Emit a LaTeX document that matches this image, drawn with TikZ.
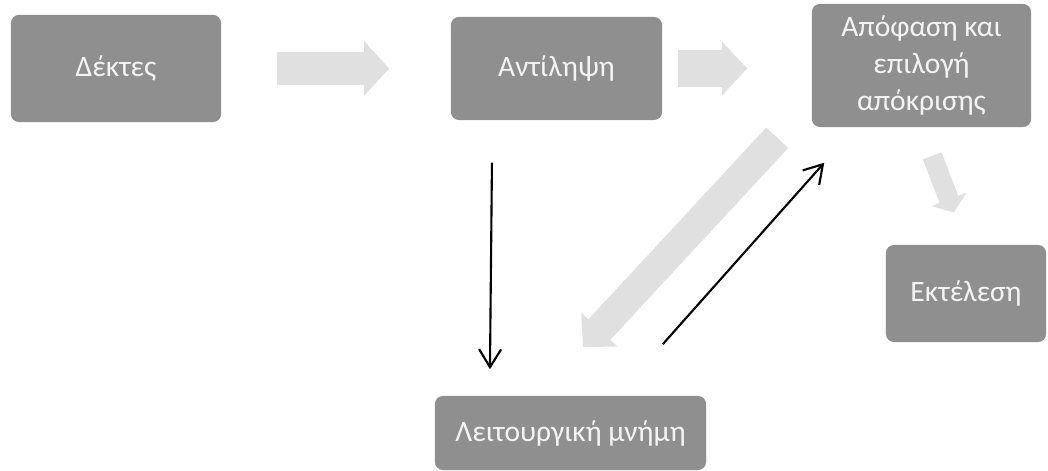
\documentclass[tikz,border=0pt]{standalone}
\usepackage{fontspec}
\setmainfont{Carlito}
\usetikzlibrary{arrows.meta}
\definecolor{WMBox}{HTML}{8F8F8F}
\definecolor{WMText}{HTML}{F4F4F4}
\definecolor{WMFlow}{HTML}{E0E0E0}

\begin{document}
\begin{tikzpicture}[x=0.01cm,y=-0.01cm,
  stage/.style={fill=WMBox,rounded corners=0.08cm,text=WMText,align=center,inner sep=0pt,font=\fontsize{8.4}{10.4}\selectfont},
  link/.style={line width=0.6pt,-{Straight Barb[length=0.18cm,width=0.22cm]}}]
\path[use as bounding box] (0,0) rectangle (1048,471);
\node[stage,minimum width=2.10cm,minimum height=1.07cm] (rec) at (116,68.5) {Δέκτες};
\node[stage,minimum width=2.11cm,minimum height=1.03cm] (perc) at (556.5,68.5) {Αντίληψη};
\node[stage,minimum width=2.19cm,minimum height=1.23cm] (dec) at (921.5,65.5) {Απόφαση και\\επιλογή\\απόκρισης};
\node[stage,minimum width=1.60cm,minimum height=0.97cm] (exe) at (966,293.5) {Εκτέλεση};
\node[stage,minimum width=2.71cm,minimum height=0.74cm] (mem) at (570.5,433) {Λειτουργική μνήμη};
\draw[WMFlow,line width=0.33cm,-{Triangle[length=0.25cm,width=0.53cm]},shorten <=0.55cm,shorten >=0.61cm] (rec) -- (perc);
\draw[WMFlow,line width=0.37cm,-{Triangle[length=0.25cm,width=0.52cm]},shorten <=0.15cm,shorten >=0.64cm] (perc.east) -- (perc.east -| dec.west);
\draw[WMFlow,line width=0.20cm,-{Triangle[length=0.14cm,width=0.37cm]},shorten <=0.30cm,shorten >=0.34cm] (dec.south) -- (exe.north);
\draw[WMFlow,line width=0.30cm,-{Triangle[length=0.24cm,width=0.48cm]}] ([xshift=-0.34cm,yshift=-0.10cm]dec.south west) -- ([xshift=0.125cm,yshift=0.48cm]mem.north);
\draw[link] ([xshift=-0.645cm,yshift=-0.42cm]perc.south) -- ([xshift=-0.805cm,yshift=0.26cm]mem.north);
\draw[link] ([xshift=-0.44cm,yshift=0.51cm]mem.north east) -- ([xshift=0.13cm,yshift=-0.35cm]dec.south west);
\end{tikzpicture}
\end{document}
